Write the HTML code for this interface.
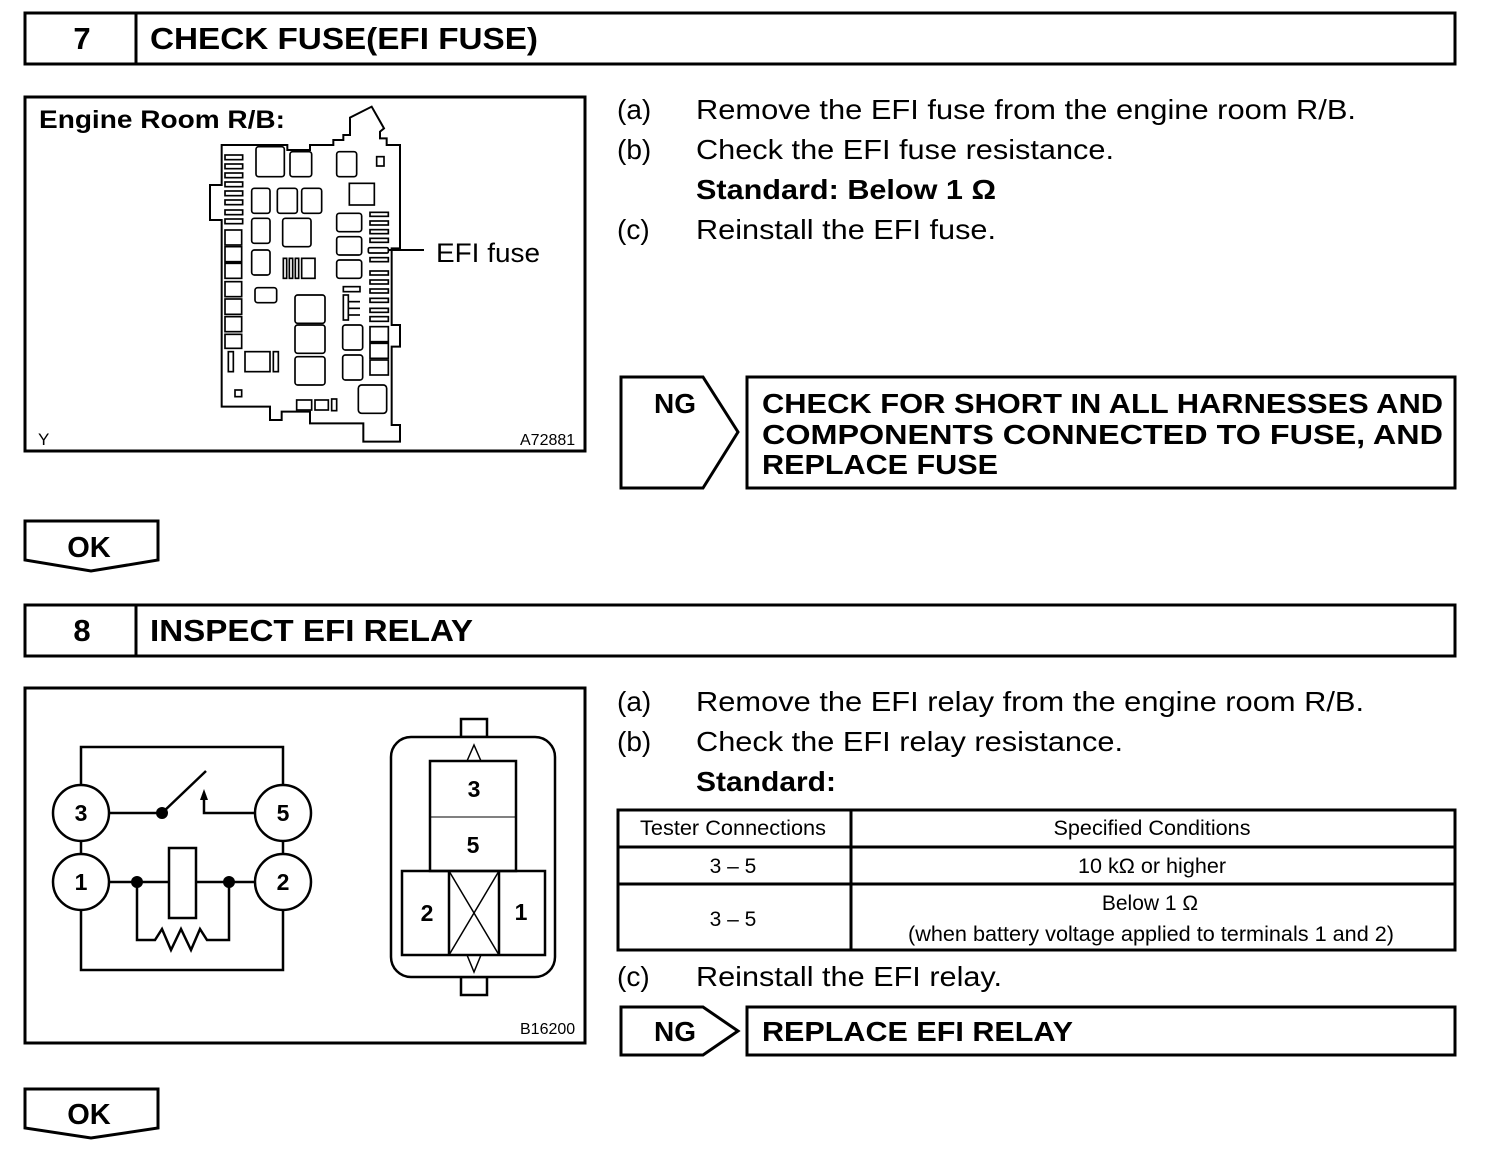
<!DOCTYPE html>
<html><head><meta charset="utf-8"><style>
html,body{margin:0;padding:0;background:#fff;}
svg{display:block;}
text{font-family:"Liberation Sans",Arial,sans-serif;fill:#000;}
.h{font-weight:bold;font-size:31px;}
.b{font-size:28px;}
.bb{font-size:28px;font-weight:bold;}
.t{font-size:21px;}
</style></head><body>
<svg width="1504" height="1158" viewBox="0 0 1504 1158" xmlns="http://www.w3.org/2000/svg">
<g fill="none" stroke="#000" stroke-width="3">
<rect x="25" y="13" width="1430" height="51"/>
<line x1="136" y1="13" x2="136" y2="64"/>
<rect x="25" y="97" width="560" height="354"/>
<polygon points="621,377 703,377 738,432 703,488 621,488"/>
<rect x="747" y="377" width="708" height="111"/>
<polygon points="25,521 158,521 158,560 91,571 25,560"/>
<rect x="25" y="605" width="1430" height="51"/>
<line x1="136" y1="605" x2="136" y2="656"/>
<rect x="25" y="688" width="560" height="355"/>
<rect x="618" y="810" width="837" height="140"/>
<line x1="618" y1="847" x2="1455" y2="847"/>
<line x1="618" y1="884" x2="1455" y2="884"/>
<line x1="851" y1="810" x2="851" y2="950"/>
<polygon points="621,1007 703,1007 738,1031 703,1055 621,1055"/>
<rect x="747" y="1007" width="708" height="48"/>
<polygon points="25,1089 158,1089 158,1128 91,1138 25,1128"/>
</g>

<text class="h" x="82" y="49" text-anchor="middle">7</text>
<text class="h" x="150" y="49" textLength="388" lengthAdjust="spacingAndGlyphs">CHECK FUSE(EFI FUSE)</text>
<text class="h" x="82" y="641" text-anchor="middle">8</text>
<text class="h" x="150" y="641" textLength="323" lengthAdjust="spacingAndGlyphs">INSPECT EFI RELAY</text>

<text class="bb" x="39" y="128" style="font-size:25px" textLength="246" lengthAdjust="spacingAndGlyphs">Engine Room R/B:</text>
<text x="38" y="445" style="font-size:17px">Y</text>
<text x="520" y="445" style="font-size:16px">A72881</text>
<text class="b" x="436" y="262" style="font-size:27px" textLength="104" lengthAdjust="spacingAndGlyphs">EFI fuse</text>
<line x1="388" y1="250" x2="424" y2="250" stroke="#000" stroke-width="2"/>

<g transform="translate(200,95) scale(0.33333)" fill="none" stroke="#000" stroke-width="6">
<path d="M65,150 L262,150 L262,165 L330,165 L330,150 L400,150 L400,135 L430,135 L430,120 L450,120 L450,68 L515,35 L552,100 L540,110 L540,130 L560,130 L560,150 L600,150 L600,460 L575,460 L575,690 L600,690 L600,755 L575,755 L575,940 L575,990 L600,990 L600,1040 L490,1040 L490,985 L330,985 L330,950 L245,950 L245,975 L210,975 L210,935 L65,935 L65,375 L30,375 L30,270 L65,270 Z"/>
<g stroke-width="5">
<rect x="75" y="180" width="53" height="14"/><rect x="75" y="207" width="53" height="14"/><rect x="75" y="234" width="53" height="14"/><rect x="75" y="261" width="53" height="14"/><rect x="75" y="288" width="53" height="14"/><rect x="75" y="315" width="53" height="14"/><rect x="75" y="345" width="53" height="14"/><rect x="75" y="372" width="53" height="14"/>
<rect x="75" y="405" width="50" height="45"/><rect x="75" y="455" width="50" height="45"/><rect x="75" y="505" width="50" height="45"/><rect x="75" y="560" width="50" height="45"/><rect x="75" y="612" width="50" height="46"/><rect x="75" y="665" width="50" height="45"/><rect x="75" y="718" width="50" height="42"/>
<rect x="168" y="155" width="85" height="90" rx="8"/><rect x="270" y="170" width="65" height="75" rx="8"/><rect x="410" y="170" width="60" height="75" rx="8"/><rect x="530" y="185" width="22" height="28"/><rect x="448" y="265" width="75" height="65"/>
<rect x="155" y="280" width="55" height="75" rx="8"/><rect x="232" y="280" width="60" height="75" rx="8"/><rect x="305" y="280" width="60" height="75" rx="8"/>
<rect x="155" y="370" width="55" height="75" rx="8"/><rect x="248" y="370" width="85" height="85" rx="8"/><rect x="155" y="465" width="55" height="75" rx="8"/>
<rect x="250" y="490" width="10" height="60"/><rect x="268" y="490" width="10" height="60"/><rect x="286" y="490" width="10" height="60"/><rect x="305" y="490" width="40" height="60"/>
<rect x="165" y="578" width="65" height="45" rx="8"/>
<rect x="410" y="355" width="75" height="55" rx="8"/><rect x="410" y="425" width="75" height="55" rx="8"/><rect x="410" y="495" width="75" height="55" rx="8"/>
<rect x="510" y="352" width="55" height="12"/><rect x="510" y="378" width="55" height="12"/><rect x="510" y="404" width="55" height="12"/><rect x="510" y="430" width="55" height="12"/><rect x="505" y="458" width="60" height="16" rx="4"/><rect x="510" y="488" width="55" height="12"/><rect x="510" y="528" width="55" height="12"/><rect x="510" y="555" width="55" height="12"/><rect x="510" y="582" width="55" height="12"/><rect x="510" y="610" width="55" height="12"/><rect x="510" y="640" width="55" height="12"/><rect x="510" y="665" width="55" height="14"/>
<rect x="285" y="600" width="90" height="85" rx="8"/><rect x="285" y="690" width="90" height="85" rx="8"/><rect x="285" y="785" width="90" height="85" rx="8"/>
<rect x="428" y="690" width="60" height="75" rx="8"/><rect x="428" y="780" width="60" height="75" rx="8"/>
<rect x="430" y="575" width="50" height="15"/><rect x="430" y="600" width="15" height="75"/><line x1="445" y1="620" x2="480" y2="620"/><line x1="445" y1="640" x2="480" y2="640"/><line x1="445" y1="660" x2="480" y2="660"/>
<rect x="510" y="695" width="55" height="45"/><rect x="510" y="745" width="55" height="45"/><rect x="510" y="795" width="55" height="45"/>
<rect x="85" y="770" width="15" height="60"/><rect x="135" y="770" width="75" height="60"/><rect x="220" y="770" width="15" height="60"/><rect x="105" y="885" width="20" height="20"/>
<rect x="290" y="915" width="45" height="30"/><rect x="345" y="915" width="40" height="30"/><rect x="395" y="912" width="15" height="35"/>
<rect x="475" y="870" width="85" height="85" rx="10"/>
</g></g>

<text class="b" x="617" y="119">(a)</text><text class="b" x="696" y="119" textLength="660" lengthAdjust="spacingAndGlyphs">Remove the EFI fuse from the engine room R/B.</text>
<text class="b" x="617" y="159">(b)</text><text class="b" x="696" y="159" textLength="418" lengthAdjust="spacingAndGlyphs">Check the EFI fuse resistance.</text>
<text class="bb" x="696" y="199" textLength="300" lengthAdjust="spacingAndGlyphs">Standard: Below 1 Ω</text>
<text class="b" x="617" y="239">(c)</text><text class="b" x="696" y="239" textLength="300" lengthAdjust="spacingAndGlyphs">Reinstall the EFI fuse.</text>

<text class="h" x="675" y="413" text-anchor="middle" style="font-size:28px">NG</text>
<text class="h" x="762" y="413" style="font-size:28px" textLength="681" lengthAdjust="spacingAndGlyphs">CHECK FOR SHORT IN ALL HARNESSES AND</text>
<text class="h" x="762" y="444" style="font-size:28px" textLength="681" lengthAdjust="spacingAndGlyphs">COMPONENTS CONNECTED TO FUSE, AND</text>
<text class="h" x="762" y="474" style="font-size:28px" textLength="236" lengthAdjust="spacingAndGlyphs">REPLACE FUSE</text>
<text class="h" x="89" y="557" text-anchor="middle" style="font-size:29px">OK</text>

<text class="b" x="617" y="711">(a)</text><text class="b" x="696" y="711" textLength="668" lengthAdjust="spacingAndGlyphs">Remove the EFI relay from the engine room R/B.</text>
<text class="b" x="617" y="751">(b)</text><text class="b" x="696" y="751" textLength="427" lengthAdjust="spacingAndGlyphs">Check the EFI relay resistance.</text>
<text class="bb" x="696" y="791" textLength="140" lengthAdjust="spacingAndGlyphs">Standard:</text>
<text class="t" x="733" y="835" text-anchor="middle" textLength="186" lengthAdjust="spacingAndGlyphs">Tester Connections</text>
<text class="t" x="1152" y="835" text-anchor="middle" textLength="197" lengthAdjust="spacingAndGlyphs">Specified Conditions</text>
<text class="t" x="733" y="873" text-anchor="middle">3 – 5</text>
<text class="t" x="1152" y="873" text-anchor="middle" textLength="148" lengthAdjust="spacingAndGlyphs">10 kΩ or higher</text>
<text class="t" x="733" y="926" text-anchor="middle">3 – 5</text>
<text class="t" x="1150" y="910" text-anchor="middle">Below 1 Ω</text>
<text class="t" x="1151" y="941" text-anchor="middle" textLength="486" lengthAdjust="spacingAndGlyphs">(when battery voltage applied to terminals 1 and 2)</text>
<text class="b" x="617" y="986">(c)</text><text class="b" x="696" y="986" textLength="306" lengthAdjust="spacingAndGlyphs">Reinstall the EFI relay.</text>
<text class="h" x="675" y="1041" text-anchor="middle" style="font-size:28px">NG</text>
<text class="h" x="762" y="1041" style="font-size:28px" textLength="311" lengthAdjust="spacingAndGlyphs">REPLACE EFI RELAY</text>
<text class="h" x="89" y="1124" text-anchor="middle" style="font-size:29px">OK</text>

<g fill="none" stroke="#000" stroke-width="2.5">
<polyline points="81,785 81,747 283,747 283,785"/>
<polyline points="81,910 81,970 283,970 283,910"/>
<line x1="81" y1="841" x2="81" y2="854"/><line x1="283" y1="841" x2="283" y2="854"/>
<circle cx="81" cy="813" r="28" fill="#fff"/><circle cx="283" cy="813" r="28" fill="#fff"/>
<circle cx="81" cy="882" r="28" fill="#fff"/><circle cx="283" cy="882" r="28" fill="#fff"/>
<line x1="109" y1="813" x2="162" y2="813"/><line x1="162" y1="813" x2="206" y2="771"/>
<polyline points="204,800 204,813 255,813"/>
<line x1="109" y1="882" x2="169" y2="882"/><line x1="196" y1="882" x2="255" y2="882"/>
<rect x="169" y="848" width="27" height="70"/>
<polyline points="137,882 137,940 155,940 162,929 171,950 181,929 191,950 200,929 207,940 229,940 229,882"/>
</g>
<polygon points="204,789 200,800 208,800" fill="#000"/>
<circle cx="162" cy="813" r="6" fill="#000"/><circle cx="137" cy="882" r="6" fill="#000"/><circle cx="229" cy="882" r="6" fill="#000"/>
<g font-weight="bold" font-size="23" text-anchor="middle">
<text x="81" y="821">3</text><text x="283" y="821">5</text><text x="81" y="890">1</text><text x="283" y="890">2</text>
</g>

<g fill="none" stroke="#000" stroke-width="2.5">
<rect x="461" y="719" width="26" height="18"/><rect x="461" y="977" width="26" height="18"/>
<rect x="391" y="737" width="164" height="240" rx="20" fill="#fff"/>
<rect x="430" y="761" width="86" height="110"/><line x1="430" y1="817" x2="516" y2="817" stroke-width="1"/>
<rect x="402" y="871" width="143" height="84"/>
<line x1="449" y1="871" x2="449" y2="955"/><line x1="499" y1="871" x2="499" y2="955"/>
<line x1="449" y1="871" x2="499" y2="955" stroke-width="1.5"/><line x1="499" y1="871" x2="449" y2="955" stroke-width="1.5"/>
<polyline points="467,761 474,745 481,761" stroke-width="1.5"/>
<polyline points="467,955 474,972 481,955" stroke-width="1.5"/>
</g>
<g font-weight="bold" font-size="23" text-anchor="middle">
<text x="474" y="797">3</text><text x="473" y="853">5</text><text x="427" y="921">2</text><text x="521" y="920">1</text>
</g>
<text x="520" y="1034" style="font-size:16px">B16200</text>
</svg>
</body></html>
